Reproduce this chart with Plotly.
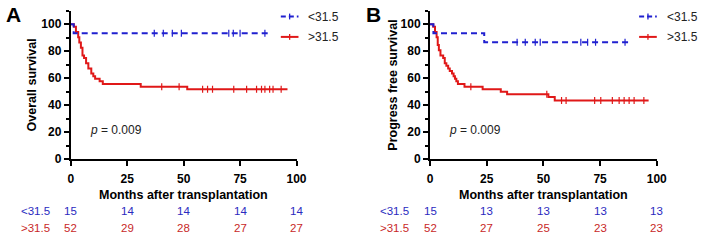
import numpy as np
import plotly.graph_objects as go

# ---------------- data ----------------
# Panel A: Overall survival
A_low_t = [0, 1.3, 88]
A_low_s = [100, 93.3, 93.3]
A_low_cens = [37, 41, 45, 49, 70, 72, 75, 86]

A_high_t = [0, 1.4, 2.3, 3.3, 3.8, 4.5, 5.2, 5.9, 6.8, 7.8, 9.1, 10.0, 10.8, 12.8, 14.2, 31, 51.6, 96]
A_high_s = [100, 98.1, 94.2, 90.4, 86.5, 82.7, 76.9, 75.0, 71.2, 67.3, 63.5, 61.5, 59.6, 57.7, 55.8, 53.8, 51.9, 51.9]
A_high_cens = [40.3, 48, 58.4, 60.6, 62.8, 72.2, 77.9, 82.3, 84.5, 86, 88.1, 89.6, 93.2]

# Panel B: Progress free survival
B_low_t = [0, 1.5, 23.9, 88.4]
B_low_s = [100, 93.3, 86.7, 86.7]
B_low_cens = [38.4, 42, 46.4, 48.6, 66.5, 69.5, 73, 86]

B_high_t = [0, 1.4, 2.2, 2.9, 3.4, 3.9, 4.6, 5.8, 6.5, 7.2, 8.0, 8.7, 9.7, 10.4, 11.0, 11.6, 12.3,
            15.2, 23.2, 31.2, 34.0, 52.2, 55.0, 96.4]
B_high_s = [100, 98.1, 94.2, 90.4, 84.6, 80.8, 76.9, 75.0, 71.2, 69.2, 67.3, 65.4, 63.5, 61.5, 59.6,
            57.7, 55.8, 53.8, 51.9, 50.0, 48.1, 46.2, 43.5, 43.5]
B_high_cens = [18, 51.5, 58, 60, 72.6, 75.3, 80.4, 83.4, 85.6, 87.8, 90, 94.3]

# Number at risk
risk_times = [0, 25, 50, 75, 100]
A_risk_low = [15, 14, 14, 14, 14]
A_risk_high = [52, 29, 28, 27, 27]
B_risk_low = [15, 13, 13, 13, 13]
B_risk_high = [52, 27, 25, 23, 23]

group_labels = ["<31.5", ">31.5"]
x_ticks = [0, 25, 50, 75, 100]
y_ticks = [0, 20, 40, 60, 80, 100]

BLUE = "#2020d0"
RED = "#e01818"
TXT_BLUE = "#2a2ac0"
TXT_RED = "#c82828"
FONT = "Liberation Sans"


def level_at(ts, ss, t):
    i = np.searchsorted(np.array(ts), t, side="right") - 1
    return ss[max(i, 0)]


fig = go.Figure()

panels = [
    ("x", "y", A_low_t, A_low_s, A_low_cens, A_high_t, A_high_s, A_high_cens),
    ("x2", "y2", B_low_t, B_low_s, B_low_cens, B_high_t, B_high_s, B_high_cens),
]
for xa, ya, lt, ls, lc, ht, hs, hc in panels:
    fig.add_trace(go.Scatter(x=ht, y=hs, mode="lines", line=dict(color=RED, width=2, shape="hv"),
                             xaxis=xa, yaxis=ya, showlegend=False, hoverinfo="skip"))
    fig.add_trace(go.Scatter(x=hc, y=[level_at(ht, hs, t) for t in hc], mode="markers",
                             marker=dict(symbol="line-ns", size=5, line=dict(color=RED, width=1.2)),
                             xaxis=xa, yaxis=ya, showlegend=False, hoverinfo="skip"))
    fig.add_trace(go.Scatter(x=lt, y=ls, mode="lines",
                             line=dict(color=BLUE, width=2, shape="hv", dash="6px,4px"),
                             xaxis=xa, yaxis=ya, showlegend=False, hoverinfo="skip"))
    fig.add_trace(go.Scatter(x=lc, y=[level_at(lt, ls, t) for t in lc], mode="markers",
                             marker=dict(symbol="line-ns", size=5, line=dict(color=BLUE, width=1.2)),
                             xaxis=xa, yaxis=ya, showlegend=False, hoverinfo="skip"))

W, H = 709, 242


def px_x(p):
    return p / W


def px_y(p):
    return 1 - p / H


y_dom = [px_y(164), px_y(11.1)]
axis_common = dict(
    showline=True, linecolor="black", linewidth=2, ticks="outside", ticklen=5, tickwidth=2,
    tickcolor="black", showgrid=False, zeroline=False,
    tickfont=dict(family=FONT, size=12, color="black", weight="bold"),
)
xextra = dict(ticklabelstandoff=2)
fig.update_layout(
    width=W, height=H, margin=dict(l=0, r=0, t=0, b=0),
    paper_bgcolor="white", plot_bgcolor="white", showlegend=False,
    xaxis=dict(domain=[px_x(69), px_x(299)], range=[0, 100], tickvals=x_ticks, anchor="y",
               **xextra, **axis_common),
    yaxis=dict(domain=y_dom, range=[0, 110], tickvals=y_ticks, anchor="x",
               minor=dict(ticks="outside", ticklen=3, tickwidth=1.5, tickcolor="black", dtick=10, tick0=0),
               **axis_common),
    xaxis2=dict(domain=[px_x(435), px_x(666)], range=[0, 100], tickvals=x_ticks, anchor="y2",
                **xextra, **axis_common),
    yaxis2=dict(domain=y_dom, range=[0, 110], tickvals=y_ticks, anchor="x2",
                minor=dict(ticks="outside", ticklen=3, tickwidth=1.5, tickcolor="black", dtick=10, tick0=0),
                **axis_common),
)

ann = []
shapes = []
panel_info = [
    ("A", 11, "Overall survival", 30, "x", "y", 69, 299, 33, A_risk_low, A_risk_high, 283),
    ("B", 377, "Progress free survival", 397, "x2", "y2", 435, 666, 399, B_risk_low, B_risk_high, 648),
]
C = dict(xanchor="center", yanchor="middle", showarrow=False)
for letter, lx, ytitle, ytx, xa, ya, x0, x1, rlx, rlow, rhigh, legx in panel_info:
    ann.append(dict(text=f"<b>{letter}</b>", x=px_x(lx), y=px_y(14.5), xref="paper", yref="paper",
                    font=dict(family=FONT, size=21, color="black"), **C))
    ann.append(dict(text=f"<b>{ytitle}</b>", x=px_x(ytx), y=px_y(87.5), xref="paper", yref="paper",
                    textangle=-90, font=dict(family=FONT, size=12.5, color="black"), **C))
    ann.append(dict(text="<b>Months after transplantation</b>", x=px_x((x0 + x1) / 2), y=px_y(201),
                    xref="paper", yref="paper",
                    font=dict(family=FONT, size=12.5, color="black"), **C))
    ann.append(dict(text="<i>p</i> = 0.009", x=7.5, y=22, xref=xa, yref=ya,
                    xanchor="left", yanchor="middle", showarrow=False,
                    font=dict(family=FONT, size=12, color="#222222")))
    # risk table
    for row_y, vals, lab, col in [(217, rlow, group_labels[0], TXT_BLUE), (234.5, rhigh, group_labels[1], TXT_RED)]:
        ann.append(dict(text=lab, x=px_x(rlx), y=px_y(row_y), xref="paper", yref="paper",
                        font=dict(family=FONT, size=11.5, color=col), **C))
        for t, v in zip(risk_times, vals):
            ann.append(dict(text=str(v), x=t, y=px_y(row_y), xref=xa, yref="paper",
                            font=dict(family=FONT, size=11.5, color=col), **C))
    # legend
    for ly, col, dash, lab in [(17, BLUE, "5px,3px", group_labels[0]), (38, RED, "solid", group_labels[1])]:
        shapes.append(dict(type="line", xref="paper", yref="paper", x0=px_x(legx), x1=px_x(legx + 18),
                           y0=px_y(ly), y1=px_y(ly), line=dict(color=col, width=2, dash=dash)))
        shapes.append(dict(type="line", xref="paper", yref="paper", x0=px_x(legx + 9), x1=px_x(legx + 9),
                           y0=px_y(ly - 3), y1=px_y(ly + 3), line=dict(color=col, width=1.3)))
        ann.append(dict(text=lab, x=px_x(legx + 26), y=px_y(ly), xref="paper", yref="paper",
                        xanchor="left", yanchor="middle", showarrow=False,
                        font=dict(family=FONT, size=12, color="#222222")))

fig.update_layout(annotations=ann, shapes=shapes)
fig.write_html("out.html")
